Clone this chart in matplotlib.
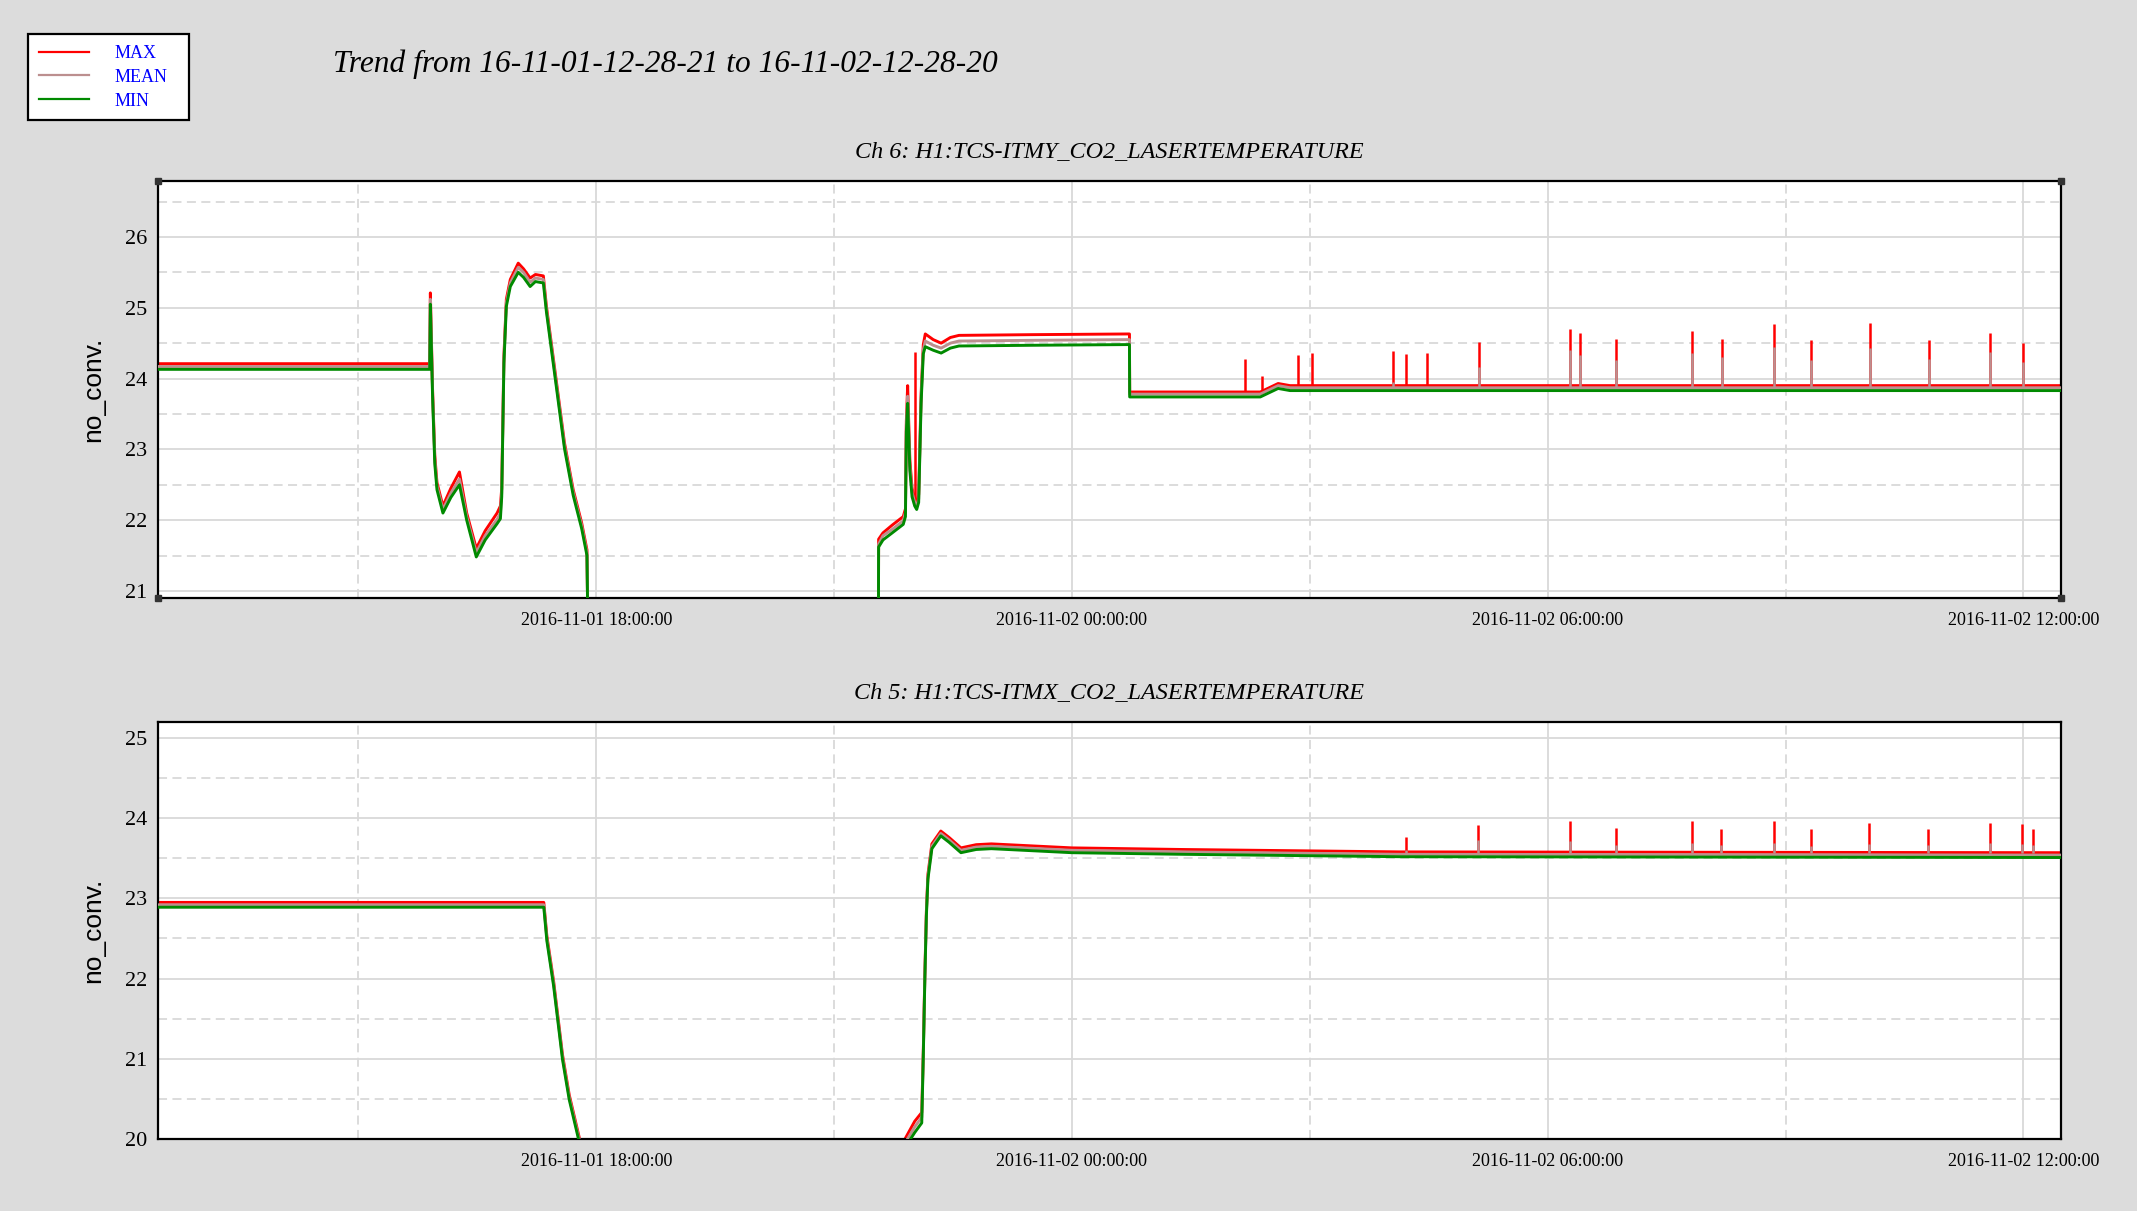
import matplotlib
matplotlib.use("Agg")
import matplotlib.pyplot as plt
import matplotlib.dates as mdates
from matplotlib.lines import Line2D
from matplotlib.patches import Rectangle
from matplotlib.ticker import MultipleLocator
import numpy as np
import pandas as pd

# ---- data -------------------------------------------------------------
t_start = "2016-11-01 12:28:21"
t_end = "2016-11-02 12:28:20"

# Ch 6 (ITMY) key points; None = no data (gap)
ch6_time = [
    "2016-11-01 12:28:21", "2016-11-01 15:54:00", "2016-11-01 15:54:30",
    "2016-11-01 15:56:10", "2016-11-01 15:57:50", "2016-11-01 15:59:30",
    "2016-11-01 16:04:00", "2016-11-01 16:10:00", "2016-11-01 16:16:30",
    "2016-11-01 16:22:00", "2016-11-01 16:29:15", "2016-11-01 16:36:00",
    "2016-11-01 16:45:00", "2016-11-01 16:47:30", "2016-11-01 16:48:30",
    "2016-11-01 16:50:10", "2016-11-01 16:52:00", "2016-11-01 16:55:00",
    "2016-11-01 17:01:00", "2016-11-01 17:05:00", "2016-11-01 17:10:00",
    "2016-11-01 17:14:00", "2016-11-01 17:20:00", "2016-11-01 17:22:20",
    "2016-11-01 17:29:00", "2016-11-01 17:36:00", "2016-11-01 17:42:35",
    "2016-11-01 17:49:00", "2016-11-01 17:53:00", "2016-11-01 17:54:00",
    "2016-11-01 19:30:00",
    "2016-11-01 21:33:30", "2016-11-01 21:33:41", "2016-11-01 21:37:00",
    "2016-11-01 21:44:00", "2016-11-01 21:52:20", "2016-11-01 21:54:00",
    "2016-11-01 21:54:40", "2016-11-01 21:55:40", "2016-11-01 21:57:20",
    "2016-11-01 21:59:00", "2016-11-01 22:01:00", "2016-11-01 22:02:30",
    "2016-11-01 22:04:00", "2016-11-01 22:05:50", "2016-11-01 22:07:30",
    "2016-11-01 22:09:00", "2016-11-01 22:15:00", "2016-11-01 22:21:00",
    "2016-11-01 22:28:00", "2016-11-01 22:34:30", "2016-11-01 23:30:00",
    "2016-11-02 00:43:30", "2016-11-02 00:43:40", "2016-11-02 02:22:30",
    "2016-11-02 02:36:00", "2016-11-02 02:45:00", "2016-11-02 12:28:20",
]
ch6_max = [
    24.21, 24.21, 25.21, 23.85, 22.92, 22.53, 22.20, 22.45, 22.68, 22.10,
    21.60, 21.85, 22.10, 22.20, 22.45, 24.32, 25.12, 25.40, 25.63, 25.55,
    25.42, 25.47, 25.45, 25.02, 24.08, 23.09, 22.43, 21.96, 21.58, 20.00,
    None,
    20.00, 21.73, 21.82, 21.93, 22.05, 22.16, 23.40, 23.90, 22.85, 22.45,
    22.30, 22.25, 22.36, 23.78, 24.48, 24.63, 24.55, 24.50, 24.58, 24.61,
    24.62, 24.63, 23.81, 23.81, 23.93, 23.90, 23.90,
]
ch6_mean = [
    24.17, 24.17, 25.12, 23.80, 22.86, 22.48, 22.15, 22.38, 22.58, 22.05,
    21.54, 21.78, 22.01, 22.10, 22.39, 24.27, 25.07, 25.35, 25.57, 25.50,
    25.36, 25.42, 25.40, 24.98, 24.04, 23.05, 22.39, 21.92, 21.54, 20.00,
    None,
    20.00, 21.66, 21.78, 21.87, 21.99, 22.11, 23.33, 23.75, 22.77, 22.39,
    22.25, 22.20, 22.30, 23.71, 24.41, 24.53, 24.47, 24.43, 24.50, 24.53,
    24.54, 24.55, 23.78, 23.78, 23.90, 23.87, 23.87,
]
ch6_min = [
    24.13, 24.13, 25.05, 23.75, 22.80, 22.43, 22.10, 22.32, 22.50, 22.00,
    21.48, 21.72, 21.95, 22.02, 22.33, 24.22, 25.02, 25.30, 25.50, 25.43,
    25.30, 25.37, 25.35, 24.94, 24.00, 23.01, 22.35, 21.88, 21.50, 20.00,
    None,
    20.00, 21.62, 21.72, 21.82, 21.94, 22.05, 23.25, 23.65, 22.70, 22.33,
    22.20, 22.15, 22.25, 23.65, 24.35, 24.45, 24.40, 24.36, 24.43, 24.46,
    24.47, 24.48, 23.74, 23.74, 23.86, 23.83, 23.83,
]

# Ch 6 glitches: time, base, MAX peak, MEAN peak
ch6_spike_time = [
    "2016-11-01 22:01:20", "2016-11-02 02:10:40", "2016-11-02 02:23:40",
    "2016-11-02 02:50:40", "2016-11-02 03:01:30", "2016-11-02 04:03:00",
    "2016-11-02 04:12:40", "2016-11-02 04:28:20", "2016-11-02 05:08:20",
    "2016-11-02 06:17:10", "2016-11-02 06:24:45", "2016-11-02 06:51:45",
    "2016-11-02 07:49:20", "2016-11-02 08:11:30", "2016-11-02 08:51:10",
    "2016-11-02 09:19:20", "2016-11-02 10:03:45", "2016-11-02 10:48:40",
    "2016-11-02 11:34:40", "2016-11-02 11:59:30",
]
ch6_spike_base = [22.25, 23.80, 23.80, 23.88, 23.88, 23.88, 23.88, 23.88,
                  23.88, 23.88, 23.88, 23.88, 23.88, 23.88, 23.88, 23.88,
                  23.88, 23.88, 23.88, 23.88]
ch6_spike_max = [24.37, 24.28, 24.03, 24.33, 24.36, 24.39, 24.34, 24.36,
                 24.51, 24.70, 24.64, 24.56, 24.67, 24.56, 24.77, 24.54,
                 24.78, 24.55, 24.65, 24.50]
ch6_spike_mean = [22.25, 23.80, 23.80, 23.88, 23.88, 23.95, 23.88, 23.88,
                  24.16, 24.41, 24.33, 24.26, 24.36, 24.30, 24.44, 24.26,
                  24.43, 24.27, 24.37, 24.23]

# Ch 5 (ITMX) key points
ch5_time = [
    "2016-11-01 12:28:21", "2016-11-01 17:20:20", "2016-11-01 17:22:40",
    "2016-11-01 17:27:45", "2016-11-01 17:34:30", "2016-11-01 17:39:35",
    "2016-11-01 17:47:00", "2016-11-01 17:52:00",
    "2016-11-01 19:30:00",
    "2016-11-01 21:52:00", "2016-11-01 22:01:00", "2016-11-01 22:06:20",
    "2016-11-01 22:07:30", "2016-11-01 22:08:40", "2016-11-01 22:09:50",
    "2016-11-01 22:11:00", "2016-11-01 22:14:00", "2016-11-01 22:20:45",
    "2016-11-01 22:27:00", "2016-11-01 22:36:00", "2016-11-01 22:47:30",
    "2016-11-01 22:59:00", "2016-11-02 00:00:00", "2016-11-02 01:23:30",
    "2016-11-02 04:08:00", "2016-11-02 12:28:20",
]
ch5_max = [
    22.95, 22.95, 22.53, 21.97, 21.05, 20.55, 20.03, 19.50,
    None,
    19.95, 20.22, 20.33, 21.09, 22.05, 22.84, 23.30, 23.68, 23.84, 23.76,
    23.63, 23.67, 23.68, 23.63, 23.61, 23.58, 23.57,
]
ch5_mean = [
    22.92, 22.92, 22.50, 21.94, 21.02, 20.52, 20.00, 19.50,
    None,
    19.90, 20.15, 20.27, 21.06, 22.02, 22.81, 23.27, 23.65, 23.81, 23.73,
    23.60, 23.64, 23.65, 23.60, 23.58, 23.55, 23.54,
]
ch5_min = [
    22.89, 22.89, 22.47, 21.91, 20.99, 20.49, 19.97, 19.50,
    None,
    19.85, 20.08, 20.20, 21.03, 21.99, 22.78, 23.24, 23.62, 23.78, 23.70,
    23.57, 23.61, 23.62, 23.57, 23.55, 23.52, 23.51,
]

ch5_spike_time = [
    "2016-11-02 04:12:40", "2016-11-02 05:07:30", "2016-11-02 06:16:30",
    "2016-11-02 06:52:00", "2016-11-02 07:49:00", "2016-11-02 08:11:00",
    "2016-11-02 08:51:00", "2016-11-02 09:19:00", "2016-11-02 10:03:00",
    "2016-11-02 10:48:00", "2016-11-02 11:35:00", "2016-11-02 11:58:40",
    "2016-11-02 12:07:00",
]
ch5_spike_base = [23.56] * 13
ch5_spike_max = [23.77, 23.92, 23.97, 23.88, 23.97, 23.87, 23.96, 23.87,
                 23.94, 23.87, 23.94, 23.93, 23.87]
ch5_spike_mean = [23.60, 23.73, 23.71, 23.66, 23.69, 23.66, 23.69, 23.65,
                  23.68, 23.66, 23.69, 23.68, 23.66]

# ---- style ------------------------------------------------------------
C_MAX = "#ff0000"
C_MEAN = "#bc8f8f"
C_MIN = "#008a00"
BG = "#dcdcdc"
GRID = "#d9d9d9"
SERIF = "Liberation Serif"
LW = 2.1


def to_float(vals):
    return np.array([np.nan if v is None else v for v in vals], dtype=float)


def draw_channel(ax, title, times, vmax, vmean, vmin,
                 sp_t, sp_base, sp_max, sp_mean, ylim):
    t = pd.to_datetime(times)
    st = pd.to_datetime(sp_t)
    ax.plot(t, to_float(vmax), color=C_MAX, lw=LW, zorder=2)
    ax.vlines(st, sp_base, sp_max, colors=C_MAX, lw=1.8, zorder=2)
    ax.plot(t, to_float(vmean), color=C_MEAN, lw=LW, zorder=3)
    ax.vlines(st, sp_base, sp_mean, colors=C_MEAN, lw=1.8, zorder=3)
    ax.plot(t, to_float(vmin), color=C_MIN, lw=LW, zorder=4)

    ax.set_xlim(pd.Timestamp(t_start), pd.Timestamp(t_end))
    ax.set_ylim(*ylim)
    ax.set_facecolor("white")

    ax.xaxis.set_major_locator(mdates.HourLocator(byhour=[0, 6, 12, 18]))
    ax.xaxis.set_minor_locator(mdates.HourLocator(byhour=[3, 9, 15, 21]))
    ax.xaxis.set_major_formatter(mdates.DateFormatter("%Y-%m-%d %H:%M:%S"))
    ax.yaxis.set_major_locator(MultipleLocator(1))
    ax.yaxis.set_minor_locator(MultipleLocator(0.5))

    ax.grid(which="major", color=GRID, lw=1.3, ls="-", zorder=0)
    ax.grid(which="minor", color=GRID, lw=1.3, ls=(0, (5, 3)), zorder=0)
    ax.set_axisbelow(True)

    ax.tick_params(which="both", length=0)
    ax.tick_params(axis="x", pad=10)
    ax.tick_params(axis="y", pad=8)
    for lab in ax.get_xticklabels():
        lab.set_fontfamily(SERIF)
        lab.set_fontsize(13)
    for lab in ax.get_yticklabels():
        lab.set_fontfamily(SERIF)
        lab.set_fontsize(16)

    for sp in ax.spines.values():
        sp.set_color("black")
        sp.set_linewidth(1.6)

    ax.set_ylabel("no_conv.", fontsize=19, family="Liberation Sans", labelpad=14)
    ax.set_title(title, fontsize=17.4, family=SERIF, style="italic", pad=17)


fig = plt.figure(figsize=(21.37, 12.11), dpi=100, facecolor=BG)
ax1 = fig.add_axes([0.0739, 0.5062, 0.8905, 0.3443])
ax2 = fig.add_axes([0.0739, 0.0595, 0.8905, 0.3443])

draw_channel(ax1, "Ch 6: H1:TCS-ITMY_CO2_LASERTEMPERATURE",
             ch6_time, ch6_max, ch6_mean, ch6_min,
             ch6_spike_time, ch6_spike_base, ch6_spike_max, ch6_spike_mean,
             (20.9, 26.79))
draw_channel(ax2, "Ch 5: H1:TCS-ITMX_CO2_LASERTEMPERATURE",
             ch5_time, ch5_max, ch5_mean, ch5_min,
             ch5_spike_time, ch5_spike_base, ch5_spike_max, ch5_spike_mean,
             (20.0, 25.2))

# little handle squares on the corners of the first panel
ax1.plot([0, 1, 0, 1], [0, 0, 1, 1], ls="none", marker="s", ms=4.5,
         color="#333333", transform=ax1.transAxes, clip_on=False, zorder=6)

fig.text(333 / 2137, 1 - 72 / 1211,
         "Trend from 16-11-01-12-28-21 to 16-11-02-12-28-20",
         ha="left", va="baseline", fontsize=22.6, family=SERIF, style="italic")

# legend: box drawn separately since the original box is wider than its
# (letter-spaced) labels
fig.patches.append(Rectangle((28 / 2137, 1 - 120 / 1211), 161 / 2137, 86 / 1211,
                             transform=fig.transFigure, facecolor="white",
                             edgecolor="black", linewidth=1.6, zorder=1))
handles = [Line2D([], [], color=C_MAX, lw=1.6),
           Line2D([], [], color=C_MEAN, lw=1.6),
           Line2D([], [], color=C_MIN, lw=1.6)]
leg = fig.legend(handles, ["MAX", "MEAN", "MIN"],
                 loc="upper left", bbox_to_anchor=(28 / 2137, 1 - 34 / 1211),
                 borderaxespad=0, frameon=False,
                 prop={"family": SERIF, "size": 13},
                 labelcolor="blue", handlelength=2.8, handletextpad=1.4,
                 labelspacing=0.38, borderpad=0.6)
leg.set_zorder(2)

fig.savefig("out.png", dpi=100, facecolor=BG)
plt.close(fig)
